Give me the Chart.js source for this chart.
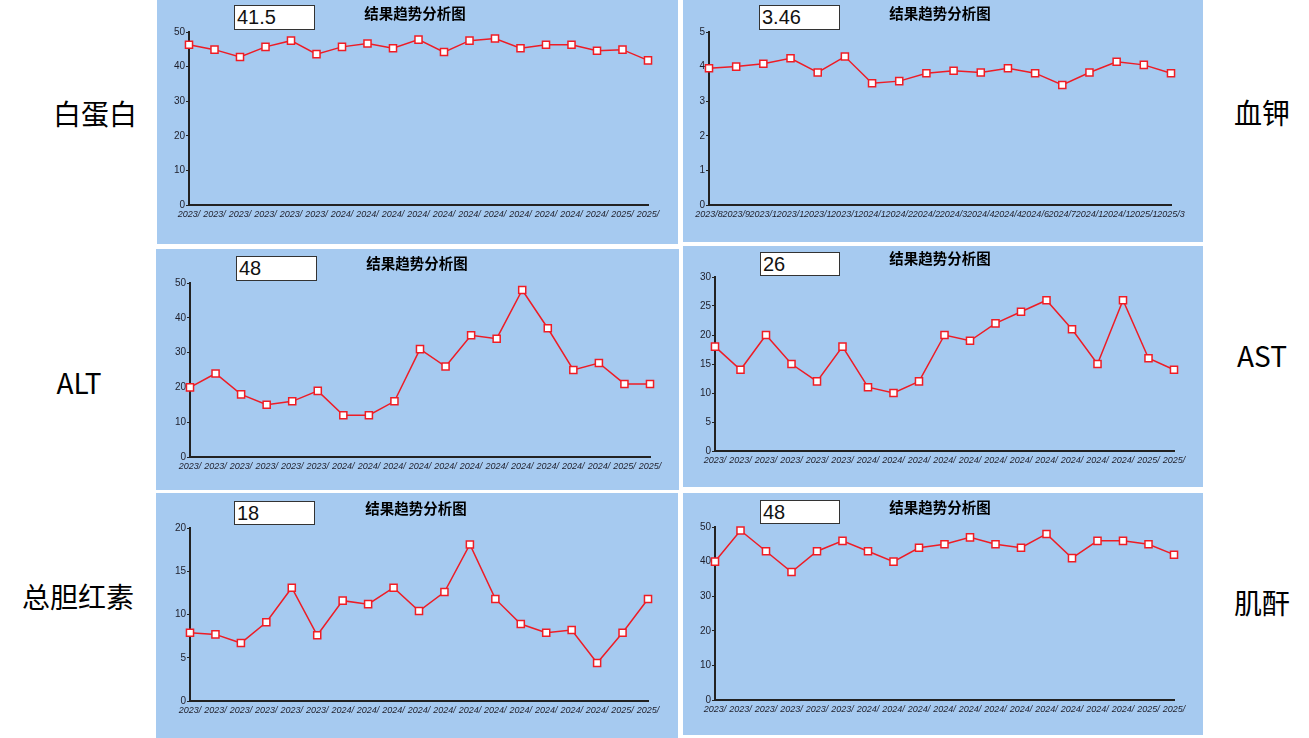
<!DOCTYPE html>
<html>
<head>
<meta charset="utf-8">
<script src="https://cdn.jsdelivr.net/npm/chart.js@4/dist/chart.umd.min.js"></script>
<style>
  body { margin: 0; background: #fff; width: 1309px; height: 738px; overflow: hidden; position: relative; font-family: "Noto Sans", "Noto Sans CJK SC", sans-serif; }
  .panel { position: absolute; background: #a6caf0; }
  .panel canvas { position: absolute; left: 0; top: 0; }
  .title { position: absolute; font: bold 14.5px "Noto Sans CJK SC", sans-serif; color: #000; transform: translateX(-50%); white-space: nowrap; line-height: 16px; }
  .valbox { position: absolute; background: #fff; border: 1.5px solid #333; box-sizing: border-box; font: 20px "Liberation Sans", Arial, sans-serif; color: #111; padding-left: 2px; line-height: 22px; }
  .side { position: absolute; font: 28px "Noto Sans CJK SC", "Noto Sans", sans-serif; color: #000; transform: translate(-50%, -50%); white-space: nowrap; }
</style>
</head>
<body>
<script>
// 横轴标签
const labelsShort = ["2023/", "2023/", "2023/", "2023/", "2023/", "2023/",
  "2024/", "2024/", "2024/", "2024/", "2024/", "2024/", "2024/", "2024/", "2024/", "2024/", "2024/",
  "2025/", "2025/"];
const labelsK = ["2023/8", "2023/9", "2023/1", "2023/1", "2023/1", "2023/1", "2024/1", "2024/2", "2024/2",
  "2024/3", "2024/4", "2024/4", "2024/6", "2024/7", "2024/1", "2024/1", "2025/1", "2025/3"];

// 各项目数据
const albumin = [46.3, 44.9, 42.8, 45.7, 47.5, 43.6, 45.7, 46.7, 45.3, 47.8, 44.2, 47.5, 48.1, 45.3, 46.3, 46.3, 44.6, 44.9, 41.8];
const potassium = [3.95, 4.0, 4.08, 4.24, 3.83, 4.29, 3.52, 3.58, 3.81, 3.88, 3.83, 3.95, 3.81, 3.47, 3.83, 4.14, 4.05, 3.81];
const alt = [20, 24, 18, 15, 16, 19, 12, 12, 16, 31, 26, 35, 34, 48, 37, 25, 27, 21, 21];
const ast = [18, 14, 20, 15, 12, 18, 11, 10, 12, 20, 19, 22, 24, 26, 21, 15, 26, 16, 14];
const bilirubin = [7.9, 7.7, 6.7, 9.1, 13.1, 7.6, 11.6, 11.2, 13.1, 10.4, 12.6, 18.1, 11.8, 8.9, 7.9, 8.2, 4.4, 7.9, 11.8];
const creatinine = [40, 49, 43, 37, 43, 46, 43, 40, 44, 45, 47, 45, 44, 48, 41, 46, 46, 45, 42];

// 面板布局
const panels = [
  { box: [157, 0, 521, 244], area: [32, 30, 32, 39], labels: labelsShort, data: albumin, max: 50, step: 10, value: "41.5", vb: [77, 5, 81, 25], tx: 258, ty: 5 },
  { box: [683, 0, 520, 242], area: [26, 32, 32, 37], labels: labelsK, data: potassium, max: 5, step: 1, value: "3.46", vb: [76, 5, 81, 25], tx: 257, ty: 5 },
  { box: [156, 249, 523, 241], area: [34, 29, 34, 33], labels: labelsShort, data: alt, max: 50, step: 10, value: "48", vb: [80, 7, 81, 25], tx: 261, ty: 6 },
  { box: [683, 246, 520, 241], area: [32, 29, 31, 36], labels: labelsShort, data: ast, max: 30, step: 5, value: "26", vb: [77, 6, 80, 24], tx: 257, ty: 4 },
  { box: [156, 493, 522, 245], area: [34, 30, 35, 37], labels: labelsShort, data: bilirubin, max: 20, step: 5, value: "18", vb: [78, 8, 81, 24], tx: 260, ty: 7 },
  { box: [683, 493, 520, 242], area: [32, 29, 34, 35], labels: labelsShort, data: creatinine, max: 50, step: 10, value: "48", vb: [77, 7, 80, 24], tx: 257, ty: 6 },
];

const sideLabels = [
  { text: "白蛋白", x: 95, y: 113 }, { text: "ALT", x: 79, y: 382 }, { text: "总胆红素", x: 78, y: 596 },
  { text: "血钾", x: 1262, y: 112 }, { text: "AST", x: 1262, y: 355 }, { text: "肌酐", x: 1262, y: 602 },
];

sideLabels.forEach(s => {
  const d = document.createElement("div");
  d.className = "side";
  d.textContent = s.text;
  d.style.left = s.x + "px";
  d.style.top = s.y + "px";
  document.body.appendChild(d);
});

panels.forEach(p => {
  const [x, y, w, h] = p.box;
  const div = document.createElement("div");
  div.className = "panel";
  Object.assign(div.style, { left: x + "px", top: y + "px", width: w + "px", height: h + "px" });
  document.body.appendChild(div);

  const canvas = document.createElement("canvas");
  canvas.width = w;
  canvas.height = h;
  div.appendChild(canvas);

  const vb = document.createElement("div");
  vb.className = "valbox";
  Object.assign(vb.style, { left: p.vb[0] + "px", top: p.vb[1] + "px", width: p.vb[2] + "px", height: p.vb[3] + "px" });
  vb.textContent = p.value;
  div.appendChild(vb);

  const t = document.createElement("div");
  t.className = "title";
  t.style.left = p.tx + "px";
  t.style.top = p.ty + "px";
  t.textContent = "结果趋势分析图";
  div.appendChild(t);

  const [aLeft, aRight, aTop, aBottom] = p.area;
  new Chart(canvas, {
    type: "line",
    data: {
      labels: p.labels,
      datasets: [{
        data: p.data,
        borderColor: "#ee1c25",
        borderWidth: 1.5,
        backgroundColor: "#ffffff",
        pointStyle: "rect",
        pointRadius: 5,
        pointBorderColor: "#f01c24",
        pointBackgroundColor: "#ffffff",
        pointBorderWidth: 1.5,
        tension: 0,
        clip: false,
      }],
    },
    options: {
      responsive: false,
      animation: false,
      devicePixelRatio: 1,
      layout: { padding: { left: 0, right: aRight, top: aTop, bottom: 0 } },
      plugins: { legend: { display: false }, tooltip: { enabled: false } },
      scales: {
        x: {
          offset: false,
          grid: { display: false, drawTicks: false },
          border: { display: true, color: "#222", width: 2 },
          ticks: { autoSkip: false, maxRotation: 0, minRotation: 0, padding: 4, color: "#1e1e2a", font: { size: 9, family: "Liberation Sans", style: "italic" } },
          afterFit: s => { s.height = aBottom; },
        },
        y: {
          min: 0,
          max: p.max,
          grid: { drawOnChartArea: false, tickLength: 3, color: "#222", tickWidth: 1 },
          border: { display: true, color: "#222", width: 2 },
          ticks: { stepSize: p.step, padding: 1, color: "#1e1e2a", font: { size: 10, family: "Liberation Sans" } },
          afterFit: s => { s.width = aLeft; },
        },
      },
    },
  });
});
</script>
</body>
</html>
